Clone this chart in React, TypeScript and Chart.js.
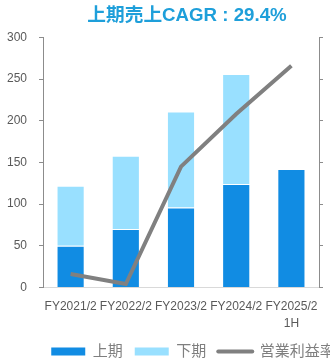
import React, { useEffect, useRef } from 'react';
import { Chart, registerables } from 'chart.js';

Chart.register(...registerables);

const FONT = '"Liberation Sans", "Noto Sans CJK JP", sans-serif';

const categories: (string | string[])[] = ['FY2021/2', 'FY2022/2', 'FY2023/2', 'FY2024/2', ['FY2025/2', '1H']];
const firstHalf = [50, 70, 96, 124, 142];
const secondHalf: (number | null)[] = [72, 88, 115, 132, null];
const operatingMargin = [1.6, 0.4, 14.5, 20.8, 26.6];
const seriesNames = ['上期', '下期', '営業利益率'];
const titleText = '上期売上CAGR : 29.4%';

const COLORS = {
  first: '#118CE3',
  second: '#99E0FF',
  line: '#808080',
  title: '#1E9FDA',
  tick: '#595959',
  legend: '#7F7F7F',
  axis: '#8C8C8C',
  base: '#D9D9D9',
};

const shiftPlugin = {
  id: 'shiftBoxes',
  afterLayout(chart: any) {
    if (chart.titleBlock) {
      chart.titleBlock.left += 6;
      chart.titleBlock.right += 6;
    }
    if (chart.legend) {
      chart.legend.left += 34;
      chart.legend.right += 34;
    }
  },
};

export default function App() {
  const ref = useRef<HTMLCanvasElement>(null);

  useEffect(() => {
    document.body.style.margin = '0';
    if (!ref.current) return;
    const chart = new Chart(ref.current, {
      type: 'bar',
      data: {
        labels: categories,
        datasets: [
          {
            type: 'bar',
            label: seriesNames[0],
            data: firstHalf,
            backgroundColor: COLORS.first,
            borderColor: 'rgba(255,255,255,0.35)',
            borderWidth: 1,
            stack: 's',
            yAxisID: 'y',
            order: 1,
            barPercentage: 0.51,
            categoryPercentage: 1.0,
          },
          {
            type: 'bar',
            label: seriesNames[1],
            data: secondHalf,
            backgroundColor: COLORS.second,
            borderColor: 'rgba(255,255,255,0.35)',
            borderWidth: 1,
            stack: 's',
            yAxisID: 'y',
            order: 1,
            barPercentage: 0.51,
            categoryPercentage: 1.0,
          },
          {
            type: 'line',
            label: seriesNames[2],
            data: operatingMargin,
            borderColor: COLORS.line,
            backgroundColor: COLORS.line,
            borderWidth: 4,
            pointRadius: 0,
            tension: 0,
            yAxisID: 'y1',
            order: 0,
          },
        ] as any,
      },
      options: {
        responsive: false,
        animation: false,
        layout: { padding: { left: -5, right: 7, top: 0, bottom: -11 } },
        plugins: {
          title: {
            display: true,
            text: titleText,
            color: COLORS.title,
            font: { size: 18.7, weight: 'bold', family: FONT },
            padding: { top: 5, bottom: 10 },
            fullSize: false,
          },
          legend: {
            position: 'bottom',
            fullSize: true,
            labels: {
              usePointStyle: true,
              pointStyleWidth: 34,
              boxHeight: 8,
              padding: 12,
              color: COLORS.legend,
              font: { size: 15, family: FONT },
              generateLabels: (c: any) =>
                c.data.datasets.map((ds: any, i: number) => ({
                  text: ds.label,
                  datasetIndex: i,
                  fillStyle: i < 2 ? ds.backgroundColor : 'rgba(0,0,0,0)',
                  strokeStyle: ds.borderColor,
                  lineWidth: i < 2 ? 0 : 4,
                  pointStyle: i < 2 ? 'rect' : 'line',
                  lineCap: 'round',
                  hidden: false,
                  fontColor: COLORS.legend,
                })),
            },
          },
          tooltip: { enabled: false },
        },
        scales: {
          x: {
            stacked: true,
            grid: { display: false, drawTicks: true, tickLength: 11 },
            border: { display: true, color: COLORS.base },
            ticks: {
              color: COLORS.tick,
              font: { size: 12, family: FONT, lineHeight: 1.4 },
              autoSkip: false,
              maxRotation: 0,
              minRotation: 0,
              padding: 0,
            },
            afterFit: (scale: any) => {
              scale.paddingLeft = 0;
              scale.paddingRight = 0;
            },
          },
          y: {
            stacked: true,
            position: 'left',
            min: 0,
            max: 300,
            ticks: { stepSize: 50, color: COLORS.tick, font: { size: 12, family: FONT }, padding: 12 },
            grid: { drawOnChartArea: false, tickLength: 4, color: COLORS.axis },
            border: { display: true, color: COLORS.axis },
          },
          y1: {
            position: 'right',
            min: 0,
            max: 30,
            ticks: { stepSize: 5, display: false },
            grid: { drawOnChartArea: false, tickLength: 4, color: COLORS.axis },
            border: { display: true, color: COLORS.axis },
          },
        },
      } as any,
      plugins: [shiftPlugin],
    });
    return () => chart.destroy();
  }, []);

  return (
    <div style={{ width: 330, height: 358 }}>
      <canvas ref={ref} width={330} height={358} style={{ display: 'block' }} />
    </div>
  );
}
